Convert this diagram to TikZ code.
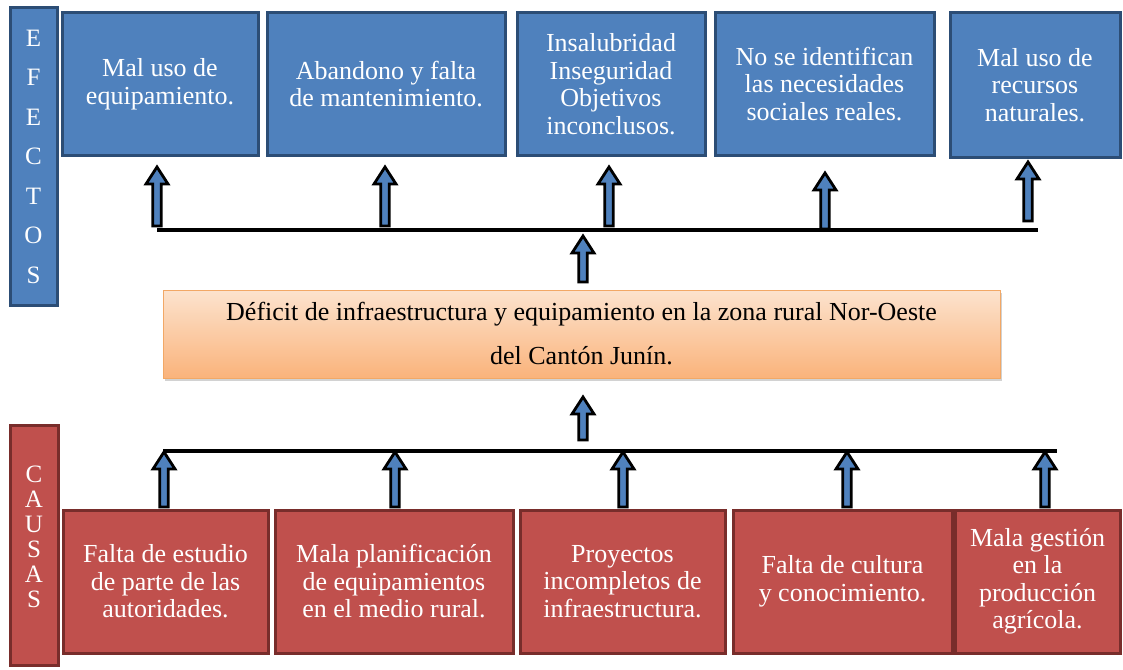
\documentclass[tikz,border=0pt]{standalone}
\usepackage{fontspec}
\setmainfont{Liberation Serif}
\newfontfamily\tnr{Liberation Serif}
\usetikzlibrary{calc,shadows}
\definecolor{efill}{HTML}{4F81BD}
\definecolor{eborder}{HTML}{2C4D75}
\definecolor{cfill}{HTML}{C0504D}
\definecolor{cborder}{HTML}{782D2B}
\definecolor{otop}{HTML}{FCE3CE}
\definecolor{obot}{HTML}{FAB37B}
\definecolor{oborder}{HTML}{F2A866}
\definecolor{afill}{HTML}{4F81BD}
\tikzset{
  boxtext/.style={font=\tnr\fontsize{26}{27.5}\selectfont, align=center, text=white, inner sep=0pt},
  effbox/.style={boxtext, draw=eborder, fill=efill, line width=3pt},
  caubox/.style={boxtext, draw=cborder, fill=cfill, line width=3pt},
  sidelabel/.style={align=center, text=white, inner sep=0pt},
  mainbox/.style={draw=oborder, line width=1pt, top color=otop, bottom color=obot,
    drop shadow={shadow xshift=1.5pt, shadow yshift=-2.5pt, opacity=0.35},
    font=\tnr\fontsize{26}{44}\selectfont, align=center, text=black, inner sep=0pt},
  hline/.style={line width=4pt, black},
  blockarrow/.style={draw=black, fill=afill, line width=2.8pt, line join=miter}
}
\newcommand\uparr[2]{\path[blockarrow] let \p1=(#1), \p2=(#2) in
  (\x1-4.2pt,\y1) -- (\x1-4.2pt,\y2-17pt) -- (\x1-11pt,\y2-17pt) -- (\x1,\y2)
  -- (\x1+11pt,\y2-17pt) -- (\x1+4.2pt,\y2-17pt) -- (\x1+4.2pt,\y1) -- cycle;}
\begin{document}
\begin{tikzpicture}[x=1pt,y=-1pt]
\useasboundingbox (0,0) rectangle (1123,669);
\fill[white] (0,0) rectangle (1123,669);

% side bars
\node[effbox, minimum width=47pt, minimum height=297pt, font=\tnr\fontsize{25}{39.5}\selectfont]
  (efectos) at (33.5,156.5) {E\\F\\E\\C\\T\\O\\S};
\node[caubox, minimum width=48pt, minimum height=240pt] (causas) at (34,545) {};
\node[sidelabel, font=\tnr\fontsize{25}{25}\selectfont] (causaslbl) at (34,537) {C\\A\\U\\S\\A\\S};

% effects
\node[effbox, minimum width=196pt, minimum height=142pt] (e1) at (160,84) {Mal uso de\\equipamiento.};
\node[effbox, minimum width=238pt, minimum height=142pt] (e2) at (386,84) {Abandono y falta\\de mantenimiento.};
\node[effbox, minimum width=188pt, minimum height=142pt] (e3) at (611,84) {Insalubridad\\Inseguridad\\Objetivos\\inconclusos.};
\node[effbox, minimum width=219pt, minimum height=142pt] (e4) at (824.5,84) {No se identifican\\las necesidades\\sociales reales.};
\node[effbox, minimum width=170pt, minimum height=144pt] (e5) at (1035,85) {Mal uso de\\recursos\\naturales.};

% central problem
\node[mainbox, minimum width=837pt, minimum height=88pt] (prob) at (581.5,334)
  {Déficit de infraestructura y equipamiento en la zona rural Nor-Oeste\\del Cantón Junín.};

% causes
\node[caubox, minimum width=205pt, minimum height=143pt] (c1) at (165.5,581.5) {Falta de estudio\\de parte de las\\autoridades.};
\node[caubox, minimum width=238pt, minimum height=143pt] (c2) at (394,581.5) {Mala planificación\\de equipamientos\\en el medio rural.};
\node[caubox, minimum width=205pt, minimum height=143pt] (c3) at (622.5,581.5) {Proyectos\\incompletos de\\infraestructura.};
\node[caubox, minimum width=219pt, minimum height=143pt] (c4) at (842.5,581.5) {Falta de cultura\\y conocimiento.};
\node[caubox, minimum width=165pt, minimum height=143pt] (c5) at (1037.5,581.5) {Mala gestión\\en la\\producción\\agrícola.};

% horizontal bars
\coordinate (tl) at (157,230);
\coordinate (tr) at (1038,230);
\coordinate (bl) at (163,451);
\coordinate (br) at (1057,451);
\draw[hline] (tl) -- (tr);
\draw[hline] (bl) -- (br);

% arrows towards effects
\coordinate (a1b) at (157,226); \coordinate (a1t) at (157,167);
\coordinate (a2b) at (385,226); \coordinate (a2t) at (385,167);
\coordinate (a3b) at (609,226); \coordinate (a3t) at (609,167);
\coordinate (a4b) at (825,229); \coordinate (a4t) at (825,173);
\coordinate (a5b) at (1028,221); \coordinate (a5t) at (1028,162);
\uparr{a1b}{a1t}
\uparr{a2b}{a2t}
\uparr{a3b}{a3t}
\uparr{a4b}{a4t}
\uparr{a5b}{a5t}

% central arrows
\coordinate (m1b) at (583,282); \coordinate (m1t) at (583,236);
\coordinate (m2b) at (583,440); \coordinate (m2t) at (583,397);
\uparr{m1b}{m1t}
\uparr{m2b}{m2t}

% arrows from causes
\coordinate (b1b) at (164,507); \coordinate (b1t) at (164,452);
\coordinate (b2b) at (395,507); \coordinate (b2t) at (395,452);
\coordinate (b3b) at (623,507); \coordinate (b3t) at (623,452);
\coordinate (b4b) at (847,507); \coordinate (b4t) at (847,452);
\coordinate (b5b) at (1045,507); \coordinate (b5t) at (1045,452);
\uparr{b1b}{b1t}
\uparr{b2b}{b2t}
\uparr{b3b}{b3t}
\uparr{b4b}{b4t}
\uparr{b5b}{b5t}
\end{tikzpicture}
\end{document}
